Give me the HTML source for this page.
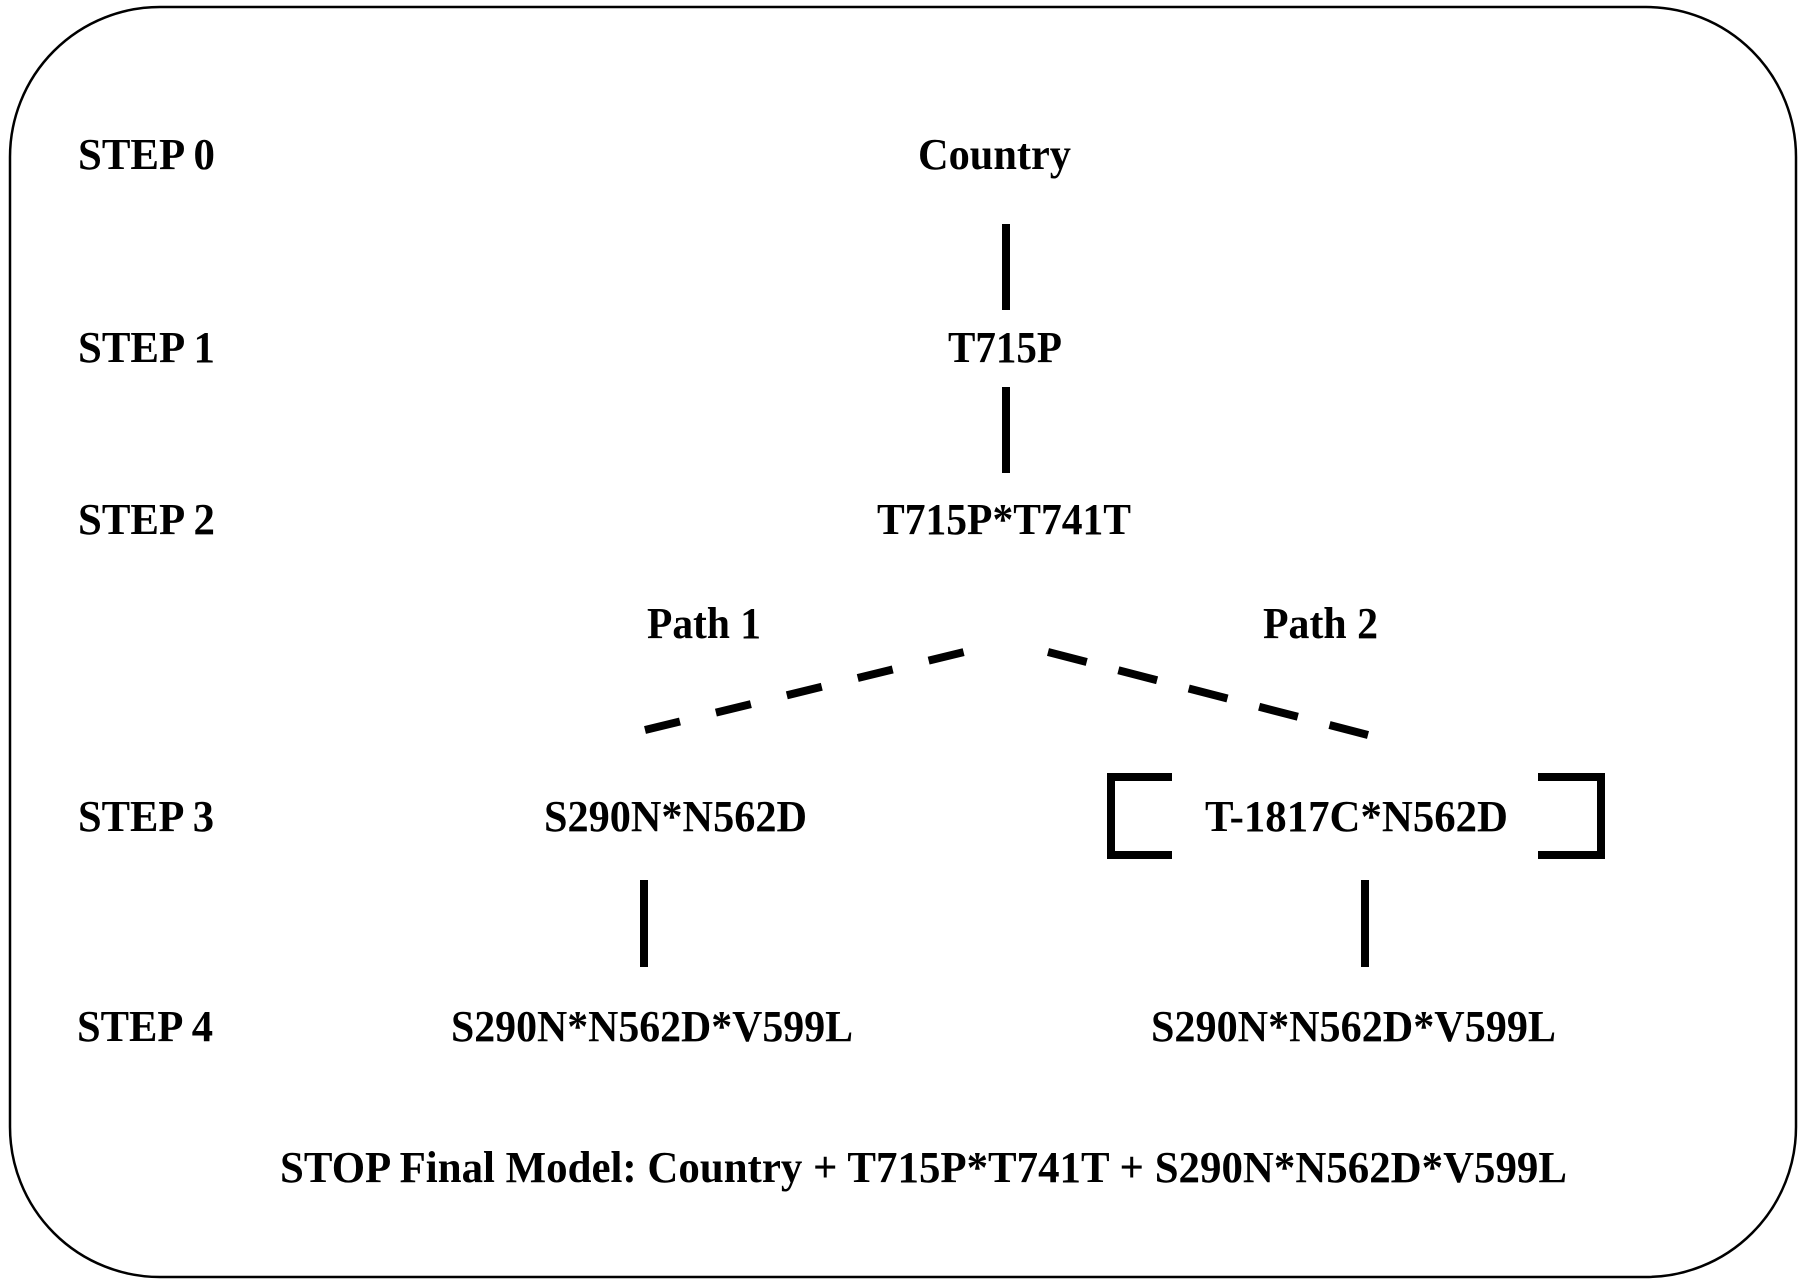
<!DOCTYPE html>
<html><head><meta charset="utf-8"><style>
html,body{margin:0;padding:0;background:#fff}
svg{display:block}
text{font-family:"Liberation Serif",serif;font-weight:bold;font-size:44px;fill:#000}
</style></head><body>
<svg width="1800" height="1283" viewBox="0 0 1800 1283" xmlns="http://www.w3.org/2000/svg">
<rect x="10" y="7" width="1786" height="1270" rx="150" ry="150" fill="none" stroke="#000" stroke-width="2.5"/>
<g>
<text x="78" y="169" textLength="137" lengthAdjust="spacingAndGlyphs">STEP 0</text>
<text x="78" y="362" textLength="137" lengthAdjust="spacingAndGlyphs">STEP 1</text>
<text x="78" y="534" textLength="137" lengthAdjust="spacingAndGlyphs">STEP 2</text>
<text x="78" y="831" textLength="136" lengthAdjust="spacingAndGlyphs">STEP 3</text>
<text x="77" y="1041" textLength="136" lengthAdjust="spacingAndGlyphs">STEP 4</text>
<text x="918" y="169" textLength="153" lengthAdjust="spacingAndGlyphs">Country</text>
<text x="948" y="362" textLength="114" lengthAdjust="spacingAndGlyphs">T715P</text>
<text x="877" y="534" textLength="254" lengthAdjust="spacingAndGlyphs">T715P*T741T</text>
<text x="647" y="638" textLength="114" lengthAdjust="spacingAndGlyphs">Path 1</text>
<text x="1263" y="638" textLength="115" lengthAdjust="spacingAndGlyphs">Path 2</text>
<text x="544" y="831" textLength="263" lengthAdjust="spacingAndGlyphs">S290N*N562D</text>
<text x="1205" y="831" textLength="303" lengthAdjust="spacingAndGlyphs">T-1817C*N562D</text>
<text x="451" y="1041" textLength="402" lengthAdjust="spacingAndGlyphs">S290N*N562D*V599L</text>
<text x="1151" y="1041" textLength="405" lengthAdjust="spacingAndGlyphs">S290N*N562D*V599L</text>
<text x="280" y="1182" textLength="1287" lengthAdjust="spacingAndGlyphs">STOP  Final Model: Country + T715P*T741T + S290N*N562D*V599L</text>
</g>
<g stroke="#000" stroke-width="8" fill="none">
<line x1="1006" y1="224" x2="1006" y2="310"/>
<line x1="1006" y1="387" x2="1006" y2="473"/>
<line x1="644" y1="880" x2="644" y2="967"/>
<line x1="1365" y1="880" x2="1365" y2="967"/>
<line x1="645" y1="730" x2="964" y2="652" stroke-dasharray="36 37"/>
<line x1="1048" y1="652" x2="1368" y2="735" stroke-dasharray="40 32.7"/>
<polyline points="1172,777 1111,777 1111,855 1172,855"/>
<polyline points="1538,777 1601,777 1601,855 1538,855"/>
</g>
</svg>
</body></html>
